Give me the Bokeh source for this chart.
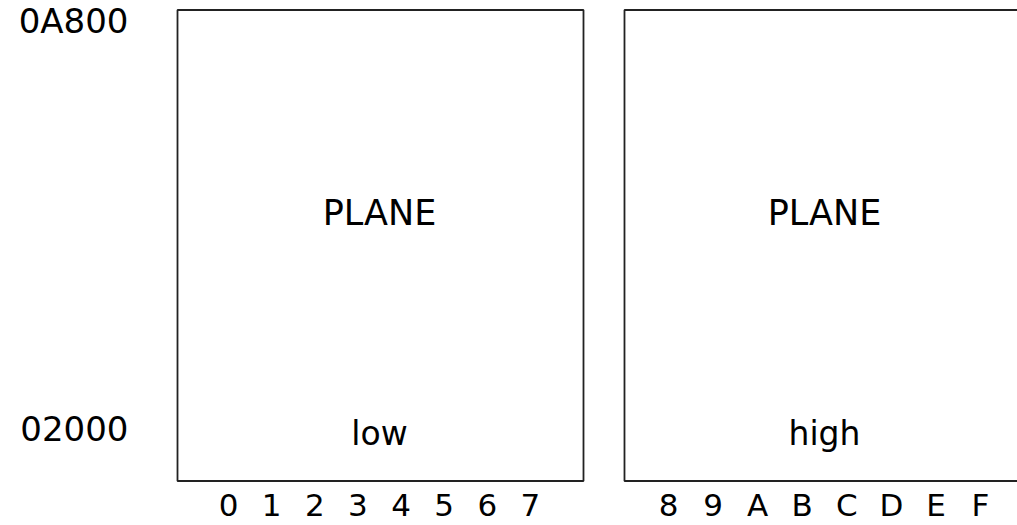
from bokeh.plotting import figure
from bokeh.models import Range1d, FixedTicker
from bokeh.layouts import row
from bokeh.embed import file_html
from bokeh.resources import INLINE
from bokeh.core.properties import value

# ---- data -------------------------------------------------------------
ADDR_LABELS = ["0A800", "02000"]                      # address marks (hex)
LOW_COLS = ["0", "1", "2", "3", "4", "5", "6", "7"]   # low plane columns
HIGH_COLS = ["8", "9", "A", "B", "C", "D", "E", "F"]  # high plane columns
PLANE_NAMES = ["PLANE", "PLANE"]
HALF_NAMES = ["low", "high"]

addr_vals = [int(s, 16) for s in ADDR_LABELS]
a_hi, a_lo = max(addr_vals), min(addr_vals)

FONT = "DejaVu Sans"
LINE = "#222222"

# ---- layout constants (address / column units) -------------------------
Y_RANGE = (-19, 44422)
BOX_Y = (3748, 43617)
COL_LABEL_Y = 1700
FIG_H = 525


def panel(cols, x_range, box_x, width, min_left, min_right, name, half, with_y):
    pos = [int(c, 16) for c in cols]
    p = figure(width=width, height=FIG_H,
               x_range=Range1d(*x_range), y_range=Range1d(*Y_RANGE),
               output_backend="svg", toolbar_location=None,
               min_border_left=min_left, min_border_right=min_right,
               min_border_top=0, min_border_bottom=0,
               outline_line_color=None,
               background_fill_color="white", border_fill_color="white")
    p.grid.visible = False
    p.xaxis.visible = False

    # the plane box
    p.quad(left=[box_x[0]], right=[box_x[1]], bottom=[BOX_Y[0]], top=[BOX_Y[1]],
           fill_color=None, line_color=LINE, line_width=1.8)

    # column labels
    p.text(x=pos, y=[COL_LABEL_Y] * len(pos), text=cols, text_font=value(FONT),
           text_font_size="31px", text_align="center", text_baseline="middle",
           text_color="black")

    cx = sum(pos) / len(pos)
    mid = (a_hi + a_lo) / 2
    p.text(x=[cx], y=[mid], text=[name], text_font=value(FONT),
           text_font_size="35px", text_align="center",
           text_baseline="middle", y_offset=-10, text_color="black")
    p.text(x=[cx], y=[a_lo], text=[half], text_font=value(FONT),
           text_font_size="33px", text_align="center",
           text_baseline="middle", y_offset=5, text_color="black")

    ya = p.yaxis[0]
    if with_y:
        ya.ticker = FixedTicker(ticks=addr_vals)
        ya.major_label_overrides = {v: s for v, s in zip(addr_vals, ADDR_LABELS)}
        ya.axis_line_color = None
        ya.major_tick_line_color = None
        ya.minor_tick_line_color = None
        ya.major_tick_out = 0
        ya.major_tick_in = 0
        ya.major_label_standoff = 44
        ya.major_label_text_font = FONT
        ya.major_label_text_font_size = "34px"
        ya.major_label_text_color = "black"
    else:
        ya.visible = False
    return p


left = panel(LOW_COLS, (-1.298, 8.345), (-1.182, 8.229), 600, 172, 12,
             PLANE_NAMES[0], HALF_NAMES[0], True)
right = panel(HIGH_COLS, (6.901, 15.830), (7.013, 17.0), 417, 19, 0,
              PLANE_NAMES[1], HALF_NAMES[1], False)

layout = row(left, right)
open("out.html", "w").write(file_html(layout, INLINE))
